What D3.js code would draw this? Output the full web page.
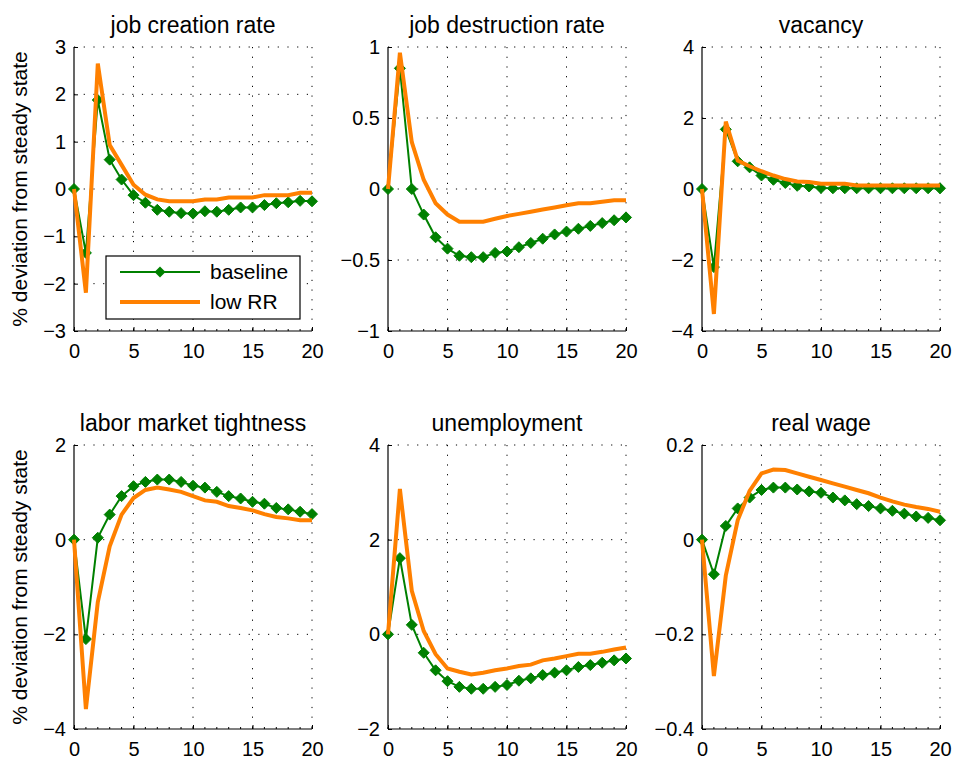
<!DOCTYPE html>
<html>
<head>
<meta charset="utf-8">
<script src="https://cdn.jsdelivr.net/npm/d3@7"></script>
<style>
  body { margin: 0; background: #fff; }
  svg { display: block; font-family: "Liberation Sans", Arial, sans-serif; }
</style>
</head>
<body>
<div id="chart"></div>
<script>
const periods = [0, 1, 2, 3, 4, 5, 6, 7, 8, 9, 10, 11, 12, 13, 14, 15, 16, 17, 18, 19, 20];

const jobCreationBase = [0, -1.35, 1.88, 0.62, 0.2, -0.13, -0.29, -0.44, -0.48, -0.51, -0.52, -0.47, -0.48, -0.44, -0.39, -0.39, -0.34, -0.3, -0.28, -0.25, -0.26];
const jobCreationLow = [0, -2.19, 2.65, 0.93, 0.51, 0.09, -0.12, -0.22, -0.26, -0.26, -0.26, -0.22, -0.22, -0.18, -0.18, -0.18, -0.13, -0.13, -0.13, -0.08, -0.08];

const jobDestructionBase = [0, 0.85, 0, -0.18, -0.34, -0.42, -0.47, -0.48, -0.48, -0.45, -0.44, -0.41, -0.38, -0.35, -0.32, -0.3, -0.28, -0.26, -0.24, -0.22, -0.2];
const jobDestructionLow = [0, 0.96, 0.33, 0.065, -0.1, -0.18, -0.23, -0.23, -0.23, -0.21, -0.19, -0.175, -0.16, -0.145, -0.13, -0.115, -0.1, -0.1, -0.09, -0.08, -0.08];

const vacancyBase = [0, -2.2, 1.68, 0.78, 0.61, 0.38, 0.26, 0.17, 0.09, 0.07, 0.03, 0.02, 0.02, 0.02, 0.02, 0.02, 0.02, 0.02, 0.02, 0.02, 0.02];
const vacancyLow = [0, -3.52, 1.9, 0.8, 0.64, 0.5, 0.38, 0.28, 0.21, 0.2, 0.15, 0.15, 0.15, 0.1, 0.1, 0.1, 0.1, 0.1, 0.1, 0.1, 0.1];

const tightnessBase = [0, -2.1, 0.04, 0.53, 0.92, 1.13, 1.22, 1.27, 1.27, 1.22, 1.14, 1.1, 1.01, 0.92, 0.87, 0.8, 0.76, 0.67, 0.64, 0.59, 0.54];
const tightnessLow = [0, -3.58, -1.32, -0.14, 0.53, 0.88, 1.05, 1.1, 1.06, 1.01, 0.92, 0.83, 0.8, 0.71, 0.67, 0.62, 0.54, 0.48, 0.45, 0.41, 0.41];

const unemploymentBase = [0, 1.61, 0.2, -0.39, -0.76, -0.99, -1.11, -1.15, -1.15, -1.11, -1.07, -0.98, -0.93, -0.86, -0.81, -0.76, -0.69, -0.65, -0.6, -0.55, -0.51];
const unemploymentLow = [0, 3.07, 0.92, 0.07, -0.42, -0.72, -0.79, -0.85, -0.81, -0.76, -0.72, -0.67, -0.64, -0.55, -0.51, -0.46, -0.41, -0.41, -0.37, -0.32, -0.28];

const realWageBase = [0, -0.073, 0.029, 0.066, 0.089, 0.105, 0.11, 0.11, 0.106, 0.102, 0.099, 0.089, 0.083, 0.075, 0.071, 0.066, 0.061, 0.055, 0.049, 0.046, 0.041];
const realWageLow = [0, -0.288, -0.076, 0.041, 0.103, 0.14, 0.148, 0.147, 0.14, 0.133, 0.126, 0.119, 0.112, 0.105, 0.098, 0.089, 0.081, 0.074, 0.069, 0.065, 0.059];

const panelTitles = ['job creation rate', 'job destruction rate', 'vacancy',
  'labor market tightness', 'unemployment', 'real wage'];
const yDomains = [[-3, 3], [-1, 1], [-4, 4], [-4, 2], [-2, 4], [-0.4, 0.2]];
const yTickValues = [
  [-3, -2, -1, 0, 1, 2, 3],
  [-1, -0.5, 0, 0.5, 1],
  [-4, -2, 0, 2, 4],
  [-4, -2, 0, 2],
  [-2, 0, 2, 4],
  [-0.4, -0.2, 0, 0.2]
];
const xTickValues = [0, 5, 10, 15, 20];
const seriesNames = ['baseline', 'low RR'];
const yLabel = '% deviation from steady state';

const panels = [
  [jobCreationBase, jobCreationLow],
  [jobDestructionBase, jobDestructionLow],
  [vacancyBase, vacancyLow],
  [tightnessBase, tightnessLow],
  [unemploymentBase, unemploymentLow],
  [realWageBase, realWageLow]
];

const green = '#008000';
const orange = '#ff8000';
const width = 953;
const height = 761;
const colLeft = [74, 388, 702];
const rowTop = [47, 445];
const plotW = 238;
const plotH = 284;

const svg = d3.select('#chart').append('svg')
  .attr('width', width)
  .attr('height', height);

const fmt = v => String(v).replace('-', '\u2212');

const diamond = 'M0,-5.5L5.5,0L0,5.5L-5.5,0Z';

panels.forEach((series, i) => {
  const col = i % 3;
  const row = Math.floor(i / 3);
  const g = svg.append('g')
    .attr('transform', `translate(${colLeft[col]},${rowTop[row]})`);

  const x = d3.scaleLinear().domain([0, 20]).range([0, plotW]);
  const y = d3.scaleLinear().domain(yDomains[i]).range([plotH, 0]);

  // dotted grid
  g.append('g').selectAll('line')
    .data(xTickValues.filter(v => v > 0))
    .join('line')
    .attr('x1', d => x(d)).attr('x2', d => x(d))
    .attr('y1', 0).attr('y2', plotH)
    .attr('stroke', '#000')
    .attr('stroke-width', 1)
    .attr('stroke-dasharray', '1.2,8.5');
  g.append('g').selectAll('line')
    .data(yTickValues[i].filter(v => v !== yDomains[i][0]))
    .join('line')
    .attr('x1', 0).attr('x2', plotW)
    .attr('y1', d => y(d)).attr('y2', d => y(d))
    .attr('stroke', '#000')
    .attr('stroke-width', 1)
    .attr('stroke-dasharray', '1.2,8.5');

  // axes
  const xAxis = g.append('g')
    .attr('transform', `translate(0,${plotH})`)
    .call(d3.axisBottom(x).tickValues(xTickValues).tickSize(-4).tickPadding(13).tickFormat(fmt));
  g.append('g')
    .attr('transform', `translate(0,${plotH})`)
    .selectAll('line')
    .data(periods)
    .join('line')
    .attr('x1', d => x(d)).attr('x2', d => x(d))
    .attr('y1', 0).attr('y2', -2)
    .attr('stroke', '#000');
  const yAxis = g.append('g')
    .call(d3.axisLeft(y).tickValues(yTickValues[i]).tickSize(-4).tickPadding(8).tickFormat(fmt));

  [xAxis, yAxis].forEach(a => {
    a.select('.domain').attr('stroke', '#000').attr('stroke-width', 1.2)
      .attr('d', a === xAxis ? `M0,0H${plotW}` : `M0,0V${plotH}`);
    a.selectAll('text').attr('font-size', 20).attr('fill', '#000')
      .attr('font-family', '"Liberation Sans", Arial, sans-serif');
  });

  const line = d3.line()
    .x((d, k) => x(periods[k]))
    .y(d => y(d));

  g.append('path')
    .datum(series[0])
    .attr('d', line)
    .attr('fill', 'none')
    .attr('stroke', green)
    .attr('stroke-width', 2);

  g.append('g').selectAll('path')
    .data(series[0])
    .join('path')
    .attr('d', diamond)
    .attr('transform', (d, k) => `translate(${x(periods[k])},${y(d)})`)
    .attr('fill', green)
    .attr('stroke', green)
    .attr('stroke-width', 1);

  g.append('path')
    .datum(series[1])
    .attr('d', line)
    .attr('fill', 'none')
    .attr('stroke', orange)
    .attr('stroke-width', 4)
    .attr('stroke-linejoin', 'miter');

  g.append('text')
    .attr('x', plotW / 2)
    .attr('y', -14)
    .attr('text-anchor', 'middle')
    .attr('font-size', 23)
    .text(panelTitles[i]);

  if (col === 0) {
    g.append('text')
      .attr('transform', `translate(${27 - colLeft[0]},${plotH / 2}) rotate(-90)`)
      .attr('text-anchor', 'middle')
      .attr('font-size', 21)
      .text(yLabel);
  }

  if (i === 0) {
    const lg = svg.append('g');
    lg.append('rect')
      .attr('x', 106).attr('y', 256)
      .attr('width', 194).attr('height', 63)
      .attr('fill', '#fff')
      .attr('stroke', '#000')
      .attr('stroke-width', 1.2);
    const rows = [272, 302];
    lg.append('line')
      .attr('x1', 120).attr('x2', 200)
      .attr('y1', rows[0]).attr('y2', rows[0])
      .attr('stroke', green).attr('stroke-width', 2);
    lg.append('path')
      .attr('d', diamond)
      .attr('transform', `translate(160,${rows[0]})`)
      .attr('fill', green);
    lg.append('line')
      .attr('x1', 120).attr('x2', 200)
      .attr('y1', rows[1]).attr('y2', rows[1])
      .attr('stroke', orange).attr('stroke-width', 4);
    lg.selectAll('text')
      .data(seriesNames)
      .join('text')
      .attr('x', 210)
      .attr('y', (d, k) => rows[k])
      .attr('dy', '0.35em')
      .attr('font-size', 21)
      .text(d => d);
  }
});
</script>
</body>
</html>
